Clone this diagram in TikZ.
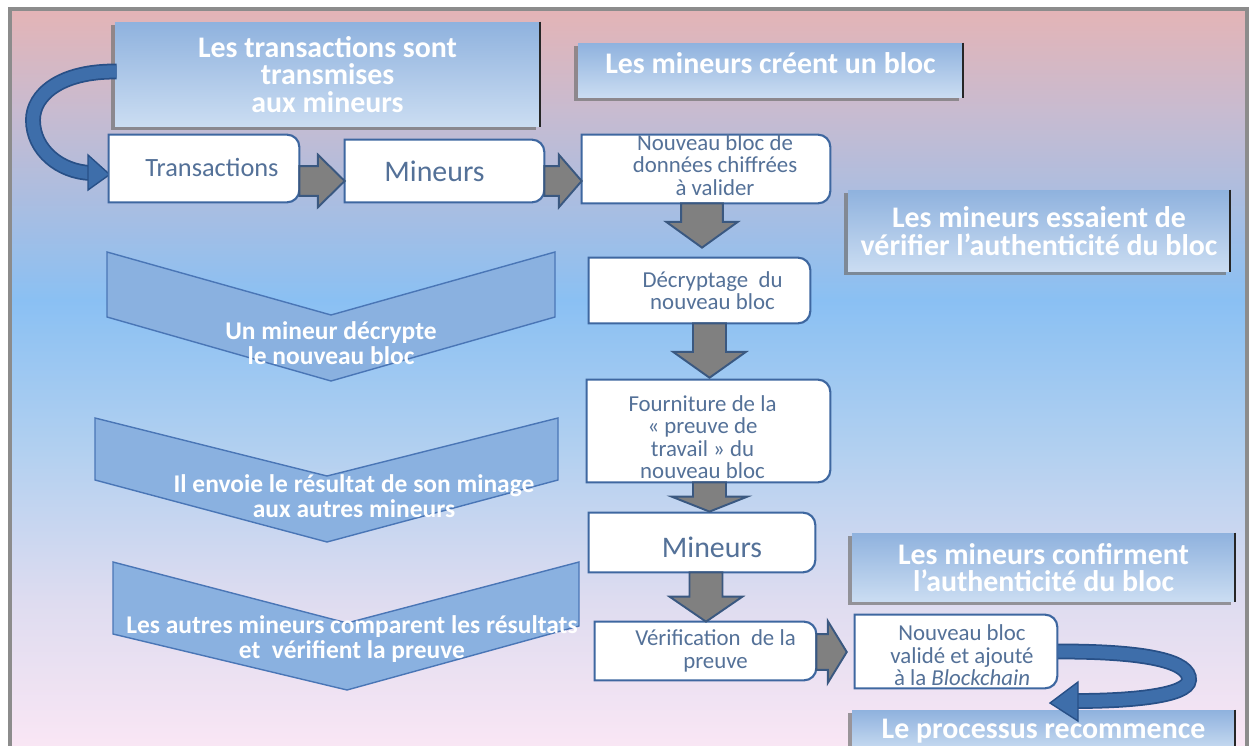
\documentclass[tikz,border=0pt]{standalone}
\usepackage{fontspec}
\setmainfont{Carlito}
\usetikzlibrary{calc,shadows}
\definecolor{bg0}{RGB}{228,180,182}
\definecolor{bg1}{RGB}{200,187,208}
\definecolor{bg2}{RGB}{138,192,243}
\definecolor{bg3}{RGB}{178,208,240}
\definecolor{bg4}{RGB}{222,220,240}
\definecolor{bg5}{RGB}{249,230,244}
\definecolor{frame}{RGB}{140,140,140}
\definecolor{hbtop}{RGB}{143,178,222}
\definecolor{hbbot}{RGB}{203,221,242}
\definecolor{wtxt}{RGB}{84,113,152}
\definecolor{wline}{RGB}{62,103,160}
\definecolor{gfill}{RGB}{128,128,128}
\definecolor{gline}{RGB}{58,88,128}
\definecolor{chfill}{RGB}{138,177,224}
\definecolor{chline}{RGB}{74,118,182}
\definecolor{rib}{RGB}{62,110,170}
\definecolor{ribdark}{RGB}{40,80,135}
\newcommand\harrow[7]{%
  \draw[garrow] let \p1=(#1.east), \p2=(#2.west), \p3=(0,#3) in
    (\x1,\y3+#4) -- (\x2-#7-#6,\y3+#4) -- (\x2-#7-#6,\y3+#5) -- (\x2-#7,\y3)
    -- (\x2-#7-#6,\y3-#5) -- (\x2-#7-#6,\y3-#4) -- (\x1,\y3-#4) -- cycle;}
\newcommand\varrow[7]{%
  \draw[garrow] let \p1=(#1.south), \p2=(#2.north), \p3=(#3,0) in
    (\x3-#4,\y1) -- (\x3-#4,\y2+#7+#6) -- (\x3-#5,\y2+#7+#6) -- (\x3,\y2+#7)
    -- (\x3+#5,\y2+#7+#6) -- (\x3+#4,\y2+#7+#6) -- (\x3+#4,\y1) -- cycle;}
\begin{document}
\begin{tikzpicture}[x=0.02cm,y=-0.02cm,
  hbox/.style={inner sep=0pt, top color=hbtop, bottom color=hbbot, text=white,
    font=\bfseries\fontsize{17}{15.8}\selectfont, align=center,
    drop shadow={shadow xshift=-2.2pt, shadow yshift=-1.8pt, fill=black!55, opacity=0.7}},
  wbox/.style={inner sep=0pt, text=wtxt, font=\fontsize{13}{12.8}\selectfont, align=center},
  wborder/.style={draw=wline, line width=1.2pt, fill=white},
  garrow/.style={fill=gfill, draw=gline, line width=1.1pt, line join=miter},
  chev/.style={fill=chfill, draw=chline, line width=0.8pt, line join=miter},
  chtext/.style={text=white, font=\bfseries\fontsize{14.5}{14.6}\selectfont, align=center, inner sep=0pt},
  ribbon/.style={draw=ribdark, line width=9pt},
  ribbonin/.style={draw=rib, line width=7pt},
  ribhead/.style={fill=rib, draw=ribdark, line width=0.8pt, line join=miter}]
\useasboundingbox (0,0) rectangle (1253,746);
\fill[white] (0,0) rectangle (1253,746);
% background gradient
\shade[top color=bg0, bottom color=bg1] (9,9) rectangle (1248,111);
\shade[top color=bg1, bottom color=bg2] (9,110) rectangle (1248,301);
\shade[top color=bg2, bottom color=bg3] (9,300) rectangle (1248,451);
\shade[top color=bg3, bottom color=bg4] (9,450) rectangle (1248,601);
\shade[top color=bg4, bottom color=bg5] (9,600) rectangle (1248,746);
\draw[frame, line width=1.8pt] (10,760) -- (10,9) -- (1247,9) -- (1247,760);

% chevrons
\draw[chev] (107,252) -- (331,315) -- (555,252) -- (555,317) -- (331,381) -- (107,317) -- cycle;
\draw[chev] (95,418) -- (327,476) -- (558,418) -- (558,480) -- (327,542) -- (95,480) -- cycle;
\draw[chev] (113,562) -- (347,623) -- (579,562) -- (579,626) -- (347,690) -- (113,634) -- cycle;
\node[chtext] (c1) at (331,343) {Un mineur décrypte\\le nouveau bloc};
\node[chtext] (c2) at (354,496) {Il envoie le résultat de son minage\\aux autres mineurs};
\node[chtext] (c3) at (352,639) {Les autres mineurs comparent les résultats\\et~ vérifient la preuve};

% header boxes
\node[hbox, minimum width=8.5cm, minimum height=2.1cm] (h1) at (327.5,74.5) {Les transactions sont\\transmises\\aux mineurs};
\node[hbox, minimum width=7.7cm, minimum height=1.1cm] (h2) at (770.5,70.5) {\raisebox{8pt}{Les mineurs créent un bloc}};
\node[hbox, minimum width=7.64cm, minimum height=1.64cm] (h3) at (1039,231) {Les mineurs essaient de\\vérifier l’authenticité du bloc};
\node[hbox, minimum width=7.66cm, minimum height=1.38cm] (h4) at (1043.5,567.5) {Les mineurs confirment\\l’authenticité du bloc};
\node[hbox, minimum width=7.66cm, minimum height=0.84cm] (h5) at (1043.5,731) {Le processus recommence};
\foreach \n in {h1,h2,h3,h4,h5}
  \draw[black!85, line width=1.3pt] (\n.north east) -- (\n.south east);

% white boxes (frames)
\node[wbox, minimum width=3.8cm, minimum height=1.34cm] (T) at (204,168.5) {};
\node[wbox, minimum width=3.98cm, minimum height=1.24cm] (M1) at (444.5,171) {};
\node[wbox, minimum width=4.96cm, minimum height=1.36cm] (N) at (706,169) {};
\node[wbox, minimum width=4.42cm, minimum height=1.3cm] (D) at (699.5,290.5) {};
\node[wbox, minimum width=4.86cm, minimum height=2.04cm] (F) at (708.5,431) {};
\node[wbox, minimum width=4.52cm, minimum height=1.18cm] (M2) at (702,542.5) {};
\node[wbox, minimum width=4.42cm, minimum height=1.16cm] (V) at (705.5,651) {};
\node[wbox, minimum width=4.04cm, minimum height=1.46cm] (NV) at (956,651.5) {};

% curved ribbon arrows
\draw[ribbon] ($(h1.west)+(2,-3)$) .. controls (60,71) and (33,95) .. (33,120)
  .. controls (33,150) and (60,172) .. (91,173);
\draw[ribbonin] ($(h1.west)+(2,-3)$) .. controls (60,71) and (33,95) .. (33,120)
  .. controls (33,150) and (60,172) .. (91,173);
\coordinate (t1) at ($(T.west)+(1,6)$);
\draw[ribhead] (88,155) -- (t1) -- (88,190) -- cycle;

\draw[ribbon] ($(NV.east)+(-4,0)$) .. controls (1150,651) and (1190,662) .. (1189,680)
  .. controls (1188,696) and (1130,701) .. (1076,701);
\draw[ribbonin] ($(NV.east)+(-4,0)$) .. controls (1150,651) and (1190,662) .. (1189,680)
  .. controls (1188,696) and (1130,701) .. (1076,701);
\coordinate (t2) at (1050,703);
\draw[ribhead] (1078,682) -- (t2) -- (1078,721) -- cycle;

% white box borders and texts
\foreach \n in {T,M1,N,D,F,M2,V,NV}
  \draw[wborder] (\n.south west) -- (\n.north west) [rounded corners=7pt] -- (\n.north east) -- (\n.south east) [sharp corners] -- cycle;
\node[wbox, font=\fontsize{15}{14}\selectfont] (Tt) at ($(T)+(8,-1)$) {Transactions};
\node[wbox, font=\fontsize{17}{16}\selectfont] (M1t) at ($(M1)+(-10,0)$) {Mineurs};
\node[wbox] (Nt) at ($(N)+(9,-4)$) {Nouveau bloc de\\données chiffrées\\à valider};
\node[wbox] (Dt) at ($(D)+(13,0)$) {Décryptage~ du\\nouveau bloc};
\node[wbox] (Ft) at ($(F)+(-6,6)$) {Fourniture de la\\«~preuve de\\travail~» du\\nouveau bloc};
\node[wbox, font=\fontsize{17}{16}\selectfont] (M2t) at ($(M2)+(10,5)$) {Mineurs};
\node[wbox] (Vt) at ($(V)+(10,0)$) {Vérification~ de la\\preuve};
\node[wbox] (NVt) at ($(NV)+(6,4)$) {Nouveau bloc\\validé et ajouté\\à la \textit{Blockchain}};

% gray block arrows
\harrow{T}{M1}{181}{8.5pt}{15pt}{15.3pt}{0pt}
\harrow{M1}{N}{181}{8.5pt}{15pt}{13pt}{0pt}
\harrow{V}{NV}{652}{10.2pt}{17.6pt}{10.8pt}{4.5pt}
\varrow{N}{D}{702}{11.9pt}{20.4pt}{14.7pt}{5.7pt}
\varrow{D}{F}{709.5}{9.4pt}{20.7pt}{14.7pt}{1.1pt}
\varrow{F}{M2}{709.5}{9.4pt}{21.5pt}{8.5pt}{0.6pt}
\varrow{M2}{V}{706}{9.4pt}{20.7pt}{14.2pt}{0pt}
\end{tikzpicture}
\end{document}
